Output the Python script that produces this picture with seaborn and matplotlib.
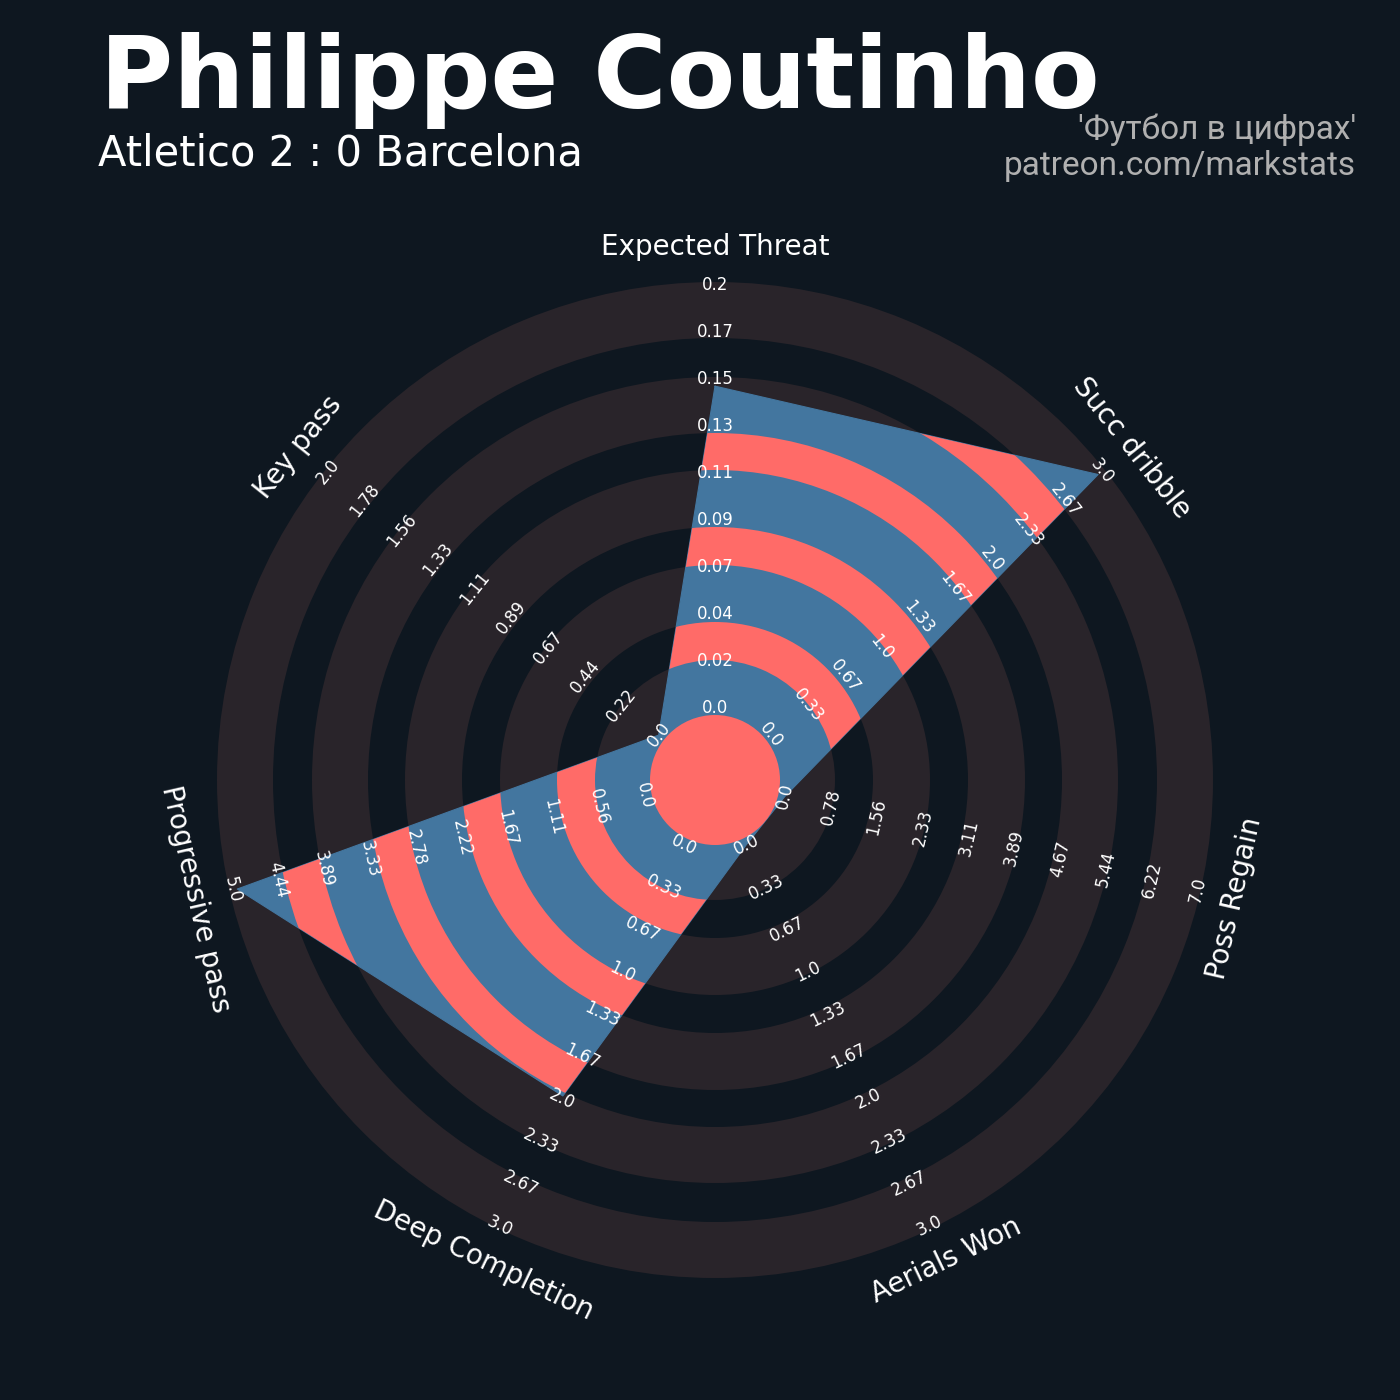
import numpy as np
import matplotlib
matplotlib.use("Agg")
import matplotlib.pyplot as plt
from matplotlib.patches import Wedge, Circle, Polygon
import seaborn as sns

# ---------------- data ----------------
params = ["Expected Threat", "Succ dribble", "Poss Regain", "Aerials Won",
          "Deep Completion", "Progressive pass", "Key pass"]
values = [0.154, 3.0, 0.0, 0.0, 2.0, 5.0, 0.0]
range_low = [0.0, 0.0, 0.0, 0.0, 0.0, 0.0, 0.0]
range_high = [0.2, 3.0, 7.0, 3.0, 3.0, 5.0, 2.0]

ticks_xt = ["0.0", "0.02", "0.04", "0.07", "0.09", "0.11", "0.13", "0.15", "0.17", "0.2"]
ticks_dribble = ["0.0", "0.33", "0.67", "1.0", "1.33", "1.67", "2.0", "2.33", "2.67", "3.0"]
ticks_regain = ["0.0", "0.78", "1.56", "2.33", "3.11", "3.89", "4.67", "5.44", "6.22", "7.0"]
ticks_aerials = ["0.0", "0.33", "0.67", "1.0", "1.33", "1.67", "2.0", "2.33", "2.67", "3.0"]
ticks_deep = ["0.0", "0.33", "0.67", "1.0", "1.33", "1.67", "2.0", "2.33", "2.67", "3.0"]
ticks_prog = ["0.0", "0.56", "1.11", "1.67", "2.22", "2.78", "3.33", "3.89", "4.44", "5.0"]
ticks_key = ["0.0", "0.22", "0.44", "0.67", "0.89", "1.11", "1.33", "1.56", "1.78", "2.0"]
tick_labels = [ticks_xt, ticks_dribble, ticks_regain, ticks_aerials,
               ticks_deep, ticks_prog, ticks_key]

title = "Philippe Coutinho"
subtitle = "Atletico 2 : 0 Barcelona"
endnote_1 = "'Футбол в цифрах'"
endnote_2 = "patreon.com/markstats"

# ---------------- style ----------------
BG = "#0e1720"
BAND = "#29242a"
BLUE = "#43769f"
RED = "#ff6b68"
ENDNOTE_C = "#b0b0b0"

sns.set_theme(style="dark")
plt.rcParams["font.family"] = ["DejaVu Sans"]

R_MIN, R_MAX = 72.0, 490.0          # radius for range_low / range_high
TICK_R0, TICK_STEP = 72.0, 47.0     # tick label radii
INNER_R = 65.0
GRAY_BANDS = [(65, 120), (158, 215), (253, 310), (347, 403), (442, 498)]
DARK_BANDS = [(120, 158), (215, 253), (310, 347), (403, 442)]
LABEL_R = 533.0

fig = plt.figure(figsize=(14, 14), dpi=100, facecolor=BG)
ax = fig.add_axes([0, 0, 1, 1])
ax.set_facecolor(BG)
ax.set_xlim(-715, 685)
ax.set_ylim(-620, 780)
ax.set_aspect("equal")
ax.axis("off")

n = len(params)
angles = np.deg2rad(90 - np.arange(n) * 360.0 / n)

# background bands
for r0, r1 in GRAY_BANDS:
    ax.add_patch(Wedge((0, 0), r1, 0, 360, width=r1 - r0, facecolor=BAND,
                       edgecolor="none", zorder=1))

# polygon
frac = [(v - lo) / (hi - lo) for v, lo, hi in zip(values, range_low, range_high)]
rads = R_MIN + np.array(frac) * (R_MAX - R_MIN)
px = rads * np.cos(angles)
py = rads * np.sin(angles)
poly = Polygon(np.column_stack([px, py]), closed=True, facecolor=BLUE,
               edgecolor="none", zorder=2)
ax.add_patch(poly)
sns.lineplot(x=np.append(px, px[0]), y=np.append(py, py[0]), sort=False,
             estimator=None, color=BLUE, lw=0.8, ax=ax, zorder=2)

for r0, r1 in DARK_BANDS:
    w = Wedge((0, 0), r1, 0, 360, width=r1 - r0, facecolor=RED,
              edgecolor="none", zorder=3)
    ax.add_patch(w)
    w.set_clip_path(poly)

ax.add_patch(Circle((0, 0), INNER_R, facecolor=RED, edgecolor="none", zorder=4))

# tick labels and parameter labels
for i, (a, labs) in enumerate(zip(angles, tick_labels)):
    deg = np.rad2deg(a)
    rot = deg - 90
    while rot <= -90:
        rot += 180
    while rot > 90:
        rot -= 180
    for k, lab in enumerate(labs):
        r = TICK_R0 + k * TICK_STEP
        ax.text(r * np.cos(a), r * np.sin(a), lab, rotation=rot,
                rotation_mode="anchor", ha="center", va="center",
                fontsize=12, color="white", zorder=6)
    ax.text(LABEL_R * np.cos(a), LABEL_R * np.sin(a), params[i], rotation=rot,
            rotation_mode="anchor", ha="center", va="center",
            fontsize=20, color="white", zorder=6)

# titles
fig.text(100 / 1400, 1 - 108 / 1400, title, fontsize=72, fontweight="bold",
         color="white", ha="left", va="baseline")
fig.text(98 / 1400, 1 - 165 / 1400, subtitle, fontsize=30, color="white",
         ha="left", va="baseline")
fig.text(1356 / 1400, 1 - 139 / 1400, endnote_1, fontsize=24, color=ENDNOTE_C,
         ha="right", va="baseline", family=["Roboto", "DejaVu Sans"])
fig.text(1356 / 1400, 1 - 175 / 1400, endnote_2, fontsize=24, color=ENDNOTE_C,
         ha="right", va="baseline", family=["Roboto", "DejaVu Sans"])

fig.savefig("out.png", dpi=100, facecolor=BG)
